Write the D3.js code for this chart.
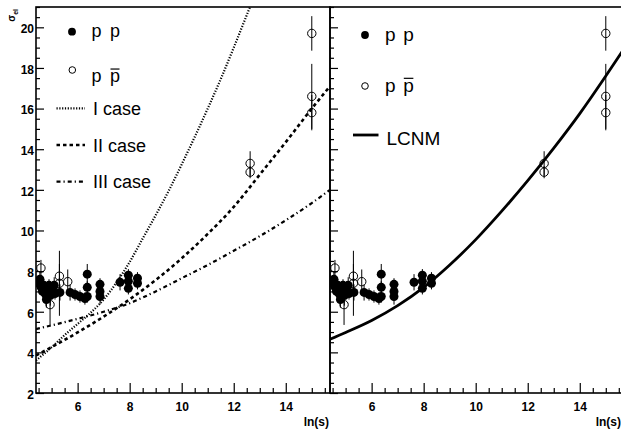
<!DOCTYPE html>
<html>
<head>
<meta charset="utf-8">
<script src="https://cdn.jsdelivr.net/npm/d3@7"></script>
<style>
  html, body { margin: 0; padding: 0; background: #fff; }
  svg { display: block; }
  text { font-family: "Liberation Sans", Arial, Helvetica, sans-serif; }
</style>
</head>
<body>
<svg id="chart" width="621" height="429"></svg>
<script>
// Elastic cross section vs ln(s): pp and p-pbar data, model curves

// pp data (filled markers): ln(s), sigma_el, error
const ppX   = [4.50, 4.55, 4.60, 4.65, 4.70, 4.75, 4.80, 4.85, 4.90, 4.95, 5.00, 5.05, 5.10, 5.13,
               5.32, 5.71, 5.90, 6.09, 6.28, 6.37, 6.37, 6.37, 6.86, 6.86, 6.86, 7.63, 7.95, 7.95, 7.95, 8.30, 8.30];
const ppY   = [7.40, 7.60, 7.20, 7.00, 7.30, 6.90, 6.60, 7.10, 7.30, 6.80, 7.00, 7.20, 7.30, 6.90,
               6.95, 6.95, 6.85, 6.75, 6.65, 7.85, 7.20, 6.75, 7.35, 7.00, 6.75, 7.45, 7.80, 7.50, 7.15, 7.65, 7.40];
const ppErr = [0.30, 0.40, 0.30, 0.30, 0.30, 0.30, 0.40, 0.30, 0.30, 0.50, 0.30, 0.30, 0.40, 0.30,
               0.40, 0.40, 0.30, 0.30, 0.30, 0.50, 0.30, 0.30, 0.30, 0.30, 0.40, 0.40, 0.30, 0.30, 0.30, 0.30, 0.30];

// p-pbar data (open markers)
const pbX   = [4.59, 4.94, 5.30, 5.30, 5.62, 12.63, 12.63, 15.00, 15.00, 15.00];
const pbY   = [8.15, 6.35, 7.75, 7.40, 7.48, 13.30, 12.87, 19.70, 16.60, 15.80];
const pbErr = [0.40, 1.00, 0.60, 1.60, 0.60, 0.60, 0.30, 0.85, 1.60, 0.87];

// Model curves, left panel
const caseX   = [4.4, 5.0, 5.5, 6.0, 6.5, 7.0, 7.5, 8.0, 8.5, 9.0, 9.5, 10.0, 10.5, 11.0, 11.5, 12.0, 12.5, 13.0];
const caseI   = [3.6, 4.25, 4.85, 5.40, 5.95, 6.60, 7.45, 8.45, 9.60, 10.75, 11.95, 13.25, 14.60, 16.00, 17.45, 19.00, 20.60, 22.20];
const caseIIX = [4.4, 5.0, 6.0, 7.0, 8.0, 9.0, 10.0, 11.0, 12.0, 13.0, 14.0, 15.0, 15.7];
const caseII  = [3.85, 4.26, 4.98, 5.76, 6.61, 7.56, 8.63, 9.83, 11.16, 12.75, 14.35, 16.00, 17.10];
const caseIII = [5.15, 5.33, 5.65, 6.00, 6.42, 7.00, 7.65, 8.30, 9.00, 9.72, 10.50, 11.35, 12.00];

// LCNM curve, right panel
const lcnmX = [4.4, 5.0, 6.0, 7.0, 8.0, 9.0, 10.0, 11.0, 12.0, 13.0, 14.0, 15.0, 15.7];
const lcnmY = [4.65, 4.98, 5.57, 6.30, 7.20, 8.30, 9.55, 10.95, 12.45, 14.05, 15.75, 17.60, 18.95];

// Axis ticks
const xMajor = [6, 8, 10, 12, 14];
const xMinor = d3.range(4.5, 15.71, 0.5).filter(v => !xMajor.includes(v));
const yMajor = [2, 4, 6, 8, 10, 12, 14, 16, 18, 20];
const yMinor = d3.range(2.5, 21.01, 0.5).filter(v => !yMajor.includes(v));

const svg = d3.select("#chart");
const frameTop = 7, frameBottom = 393;
const y = d3.scaleLinear().domain([2, 21]).range([frameBottom, frameTop]);
const xL = d3.scaleLinear().domain([4.4, 15.7]).range([36, 330]);
const xR = d3.scaleLinear().domain([4.4, 15.7]).range([330, 624]);

const defs = svg.append("defs");
function addClip(id, x0, x1) {
  defs.append("clipPath").attr("id", id)
    .append("rect").attr("x", x0).attr("y", frameTop).attr("width", x1 - x0).attr("height", frameBottom - frameTop);
}
addClip("clipL", 36, 330);
addClip("clipR", 330, 624);

function drawAxes(x, showYLabels, labelEnd) {
  const g = svg.append("g");
  // bottom major ticks
  g.append("g").attr("transform", `translate(0,${frameBottom})`)
    .call(d3.axisBottom(x).tickValues(xMajor).tickSize(-10).tickSizeOuter(0).tickPadding(9).tickFormat(d3.format("d")))
    .call(a => a.select(".domain").remove())
    .call(a => a.selectAll("text").attr("font-size", 12).attr("font-weight", "bold").attr("fill", "#000")
      .attr("font-family", "'Liberation Sans', Arial, sans-serif"))
    .call(a => a.selectAll("line").attr("stroke", "#000").attr("stroke-width", 1.2));
  g.append("g").attr("transform", `translate(0,${frameBottom})`)
    .call(d3.axisBottom(x).tickValues(xMinor).tickSize(-5).tickSizeOuter(0).tickFormat(""))
    .call(a => a.select(".domain").remove())
    .call(a => a.selectAll("line").attr("stroke", "#000").attr("stroke-width", 1.2));
  // left major/minor ticks
  const x0 = x.range()[0];
  const ya = g.append("g").attr("transform", `translate(${x0},0)`)
    .call(d3.axisLeft(y).tickValues(yMajor).tickSize(-8).tickSizeOuter(0).tickPadding(2)
      .tickFormat(showYLabels ? d3.format("d") : ""))
    .call(a => a.select(".domain").remove())
    .call(a => a.selectAll("line").attr("stroke", "#000").attr("stroke-width", 1.2));
  ya.selectAll("text").attr("font-size", 12).attr("font-weight", "bold").attr("fill", "#000")
    .attr("dy", "0.45em").attr("font-family", "'Liberation Sans', Arial, sans-serif");
  g.append("g").attr("transform", `translate(${x0},0)`)
    .call(d3.axisLeft(y).tickValues(yMinor).tickSize(-4).tickSizeOuter(0).tickFormat(""))
    .call(a => a.select(".domain").remove())
    .call(a => a.selectAll("line").attr("stroke", "#000").attr("stroke-width", 1.2));
  // frame
  g.append("rect").attr("x", x.range()[0]).attr("y", frameTop)
    .attr("width", x.range()[1] - x.range()[0]).attr("height", frameBottom - frameTop)
    .attr("fill", "none").attr("stroke", "#000").attr("stroke-width", 1.6);
  // x title
  g.append("text").attr("x", labelEnd).attr("y", 426).attr("text-anchor", "end")
    .attr("font-size", 12).attr("font-weight", "bold").text("ln(s)");
}

function drawData(x, clipId) {
  const g = svg.append("g").attr("clip-path", `url(#${clipId})`);
  const pp = ppX.map((v, i) => ({ x: v, y: ppY[i], e: ppErr[i] }));
  const pb = pbX.map((v, i) => ({ x: v, y: pbY[i], e: pbErr[i] }));
  const bars = pp.concat(pb);
  g.selectAll("line.err").data(bars).join("line")
    .attr("x1", d => x(d.x)).attr("x2", d => x(d.x))
    .attr("y1", d => y(d.y - d.e)).attr("y2", d => y(d.y + d.e))
    .attr("stroke", "#000").attr("stroke-width", 1);
  g.selectAll("circle.pp").data(pp).join("circle")
    .attr("cx", d => x(d.x)).attr("cy", d => y(d.y)).attr("r", 4.5).attr("fill", "#000");
  g.selectAll("circle.pb").data(pb).join("circle")
    .attr("cx", d => x(d.x)).attr("cy", d => y(d.y)).attr("r", 4.2)
    .attr("fill", "none").attr("stroke", "#000").attr("stroke-width", 1);
}

function drawCurve(x, xs, ys, clipId, width, dash) {
  const line = d3.line().x(d => x(d[0])).y(d => y(d[1])).curve(d3.curveMonotoneX);
  svg.append("path").attr("clip-path", `url(#${clipId})`)
    .datum(xs.map((v, i) => [v, ys[i]]))
    .attr("d", line).attr("fill", "none").attr("stroke", "#000")
    .attr("stroke-width", width).attr("stroke-dasharray", dash || null);
}

// ---- Left panel
drawAxes(xL, true, 329);
drawData(xL, "clipL");
const dotted = "1.2,1.6", dashed = "3.5,3", dashdot = "4,3,1.2,3";
drawCurve(xL, caseX, caseI, "clipL", 2.2, dotted);
drawCurve(xL, caseIIX, caseII, "clipL", 2.6, dashed);
drawCurve(xL, caseIIX, caseIII, "clipL", 2.2, dashdot);

// ---- Right panel
drawAxes(xR, false, 621);
drawData(xR, "clipR");
drawCurve(xR, lcnmX, lcnmY, "clipR", 2.8, null);

// y title (rotated)
const yt = svg.append("text").attr("transform", "translate(15,9) rotate(-90)")
  .attr("text-anchor", "end").attr("font-size", 10).attr("font-weight", "bold");
yt.append("tspan").text("σ");
yt.append("tspan").attr("font-size", 7).attr("dy", 3).text("el");

// ---- Legends
function ppRow(g, xm, yc, base, xp1, xp2, fs, filled) {
  g.append("circle").attr("cx", xm).attr("cy", yc).attr("r", filled ? 3.9 : 3.3)
    .attr("fill", filled ? "#000" : "none").attr("stroke", "#000").attr("stroke-width", filled ? 0 : 1);
  g.append("text").attr("x", xp1).attr("y", base).attr("font-size", fs).text("p");
  g.append("text").attr("x", xp2).attr("y", base).attr("font-size", fs).text("p");
  if (!filled) {
    const w = fs * 0.556;
    g.append("line").attr("x1", xp2 + 0.5).attr("x2", xp2 + w - 0.5)
      .attr("y1", base - fs * 0.72).attr("y2", base - fs * 0.72)
      .attr("stroke", "#000").attr("stroke-width", 1.2);
  }
}
function lineRow(g, x1, x2, yc, base, xt, fs, width, dash, label) {
  g.append("line").attr("x1", x1).attr("x2", x2).attr("y1", yc).attr("y2", yc)
    .attr("stroke", "#000").attr("stroke-width", width).attr("stroke-dasharray", dash || null);
  g.append("text").attr("x", xt).attr("y", base).attr("font-size", fs).text(label);
}

const legL = svg.append("g");
ppRow(legL, 72, 31.7, 37, 91.5, 110, 18, true);
ppRow(legL, 72.3, 70, 82, 91.5, 110, 18, false);
lineRow(legL, 56.5, 85, 108.3, 114.8, 93, 18, 2.2, dotted, "I case");
lineRow(legL, 56.5, 85, 145, 151.5, 93, 18, 2.6, dashed, "II case");
lineRow(legL, 56.5, 85, 181.7, 188.2, 93, 18, 2.2, dashdot, "III case");

const legR = svg.append("g");
ppRow(legR, 365, 35, 40.5, 385, 403.3, 19, true);
ppRow(legR, 365, 86, 92, 385, 403.3, 19, false);
lineRow(legR, 353, 378.5, 135, 145, 386.5, 19, 2.8, null, "LCNM");
</script>
</body>
</html>
